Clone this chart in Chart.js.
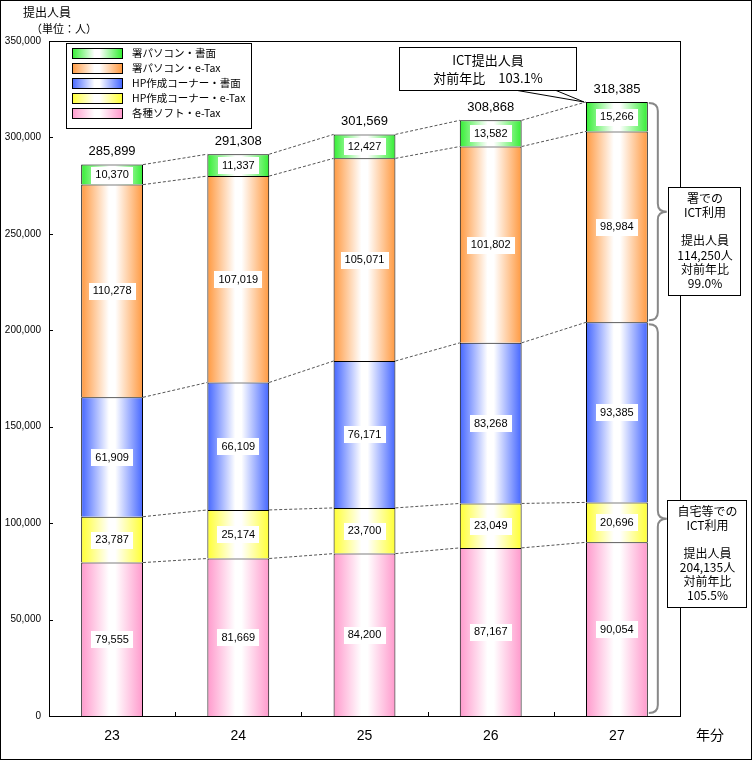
<!DOCTYPE html>
<html>
<head>
<meta charset="utf-8">
<script src="https://cdn.jsdelivr.net/npm/chart.js@4.4.1/dist/chart.umd.min.js"></script>
<style>
  html, body { margin: 0; padding: 0; background: #fff; }
  #box { width: 752px; height: 760px; }
</style>
</head>
<body>
<div id="box"><canvas id="chart" width="752" height="760"></canvas></div>
<script>
// 年分
const years = ["23", "24", "25", "26", "27"];
// 提出人員 (人) 下から順
const softEtax = [79555, 81669, 84200, 87167, 90054];     // 各種ソフト・e-Tax
const hpEtax   = [23787, 25174, 23700, 23049, 20696];     // HP作成コーナー・e-Tax
const hpPaper  = [61909, 66109, 76171, 83268, 93385];     // HP作成コーナー・書面
const pcEtax   = [110278, 107019, 105071, 101802, 98984]; // 署パソコン・e-Tax
const pcPaper  = [10370, 11337, 12427, 13582, 15266];     // 署パソコン・書面
const totals   = [285899, 291308, 301569, 308868, 318385];
const yTicks   = [0, 50000, 100000, 150000, 200000, 250000, 300000, 350000];

const FAM = '"Liberation Sans", "Noto Sans CJK JP", sans-serif';
const JP = '"Noto Sans CJK JP", sans-serif';
const BAR_PCT = 0.49;

const series = [
  { label: "各種ソフト・e-Tax",       data: softEtax, color: "#ff99cc" },
  { label: "HP作成コーナー・e-Tax",   data: hpEtax,   color: "#ffff33" },
  { label: "HP作成コーナー・書面",    data: hpPaper,  color: "#4466ff" },
  { label: "署パソコン・e-Tax",       data: pcEtax,   color: "#ff9940" },
  { label: "署パソコン・書面",        data: pcPaper,  color: "#33ee33" }
];

function makeGrad(ctx, x0, x1, color) {
  const g = ctx.createLinearGradient(x0, 0, x1, 0);
  g.addColorStop(0, color);
  g.addColorStop(0.45, "#ffffff");
  g.addColorStop(0.55, "#ffffff");
  g.addColorStop(1, color);
  return g;
}

function barFill(color) {
  return c => {
    const chart = c.chart, xs = chart.scales.x;
    if (c.type !== "data" || !xs || !chart.chartArea) return color;
    const cx = xs.getPixelForValue(c.dataIndex);
    const w = xs.width / years.length * BAR_PCT;
    return makeGrad(chart.ctx, cx - w / 2, cx + w / 2, color);
  };
}

const fmt = v => v.toLocaleString("en-US");

function line(ctx, x1, y1, x2, y2) {
  ctx.beginPath(); ctx.moveTo(x1, y1); ctx.lineTo(x2, y2); ctx.stroke();
}

function brace(ctx, x, y1, y2) {
  const m = (y1 + y2) / 2, r = 8, w = 9;
  ctx.beginPath();
  ctx.moveTo(x, y1);
  ctx.quadraticCurveTo(x + w, y1, x + w, y1 + r);
  ctx.lineTo(x + w, m - r);
  ctx.quadraticCurveTo(x + w, m, x + 2 * w, m);
  ctx.quadraticCurveTo(x + w, m, x + w, m + r);
  ctx.lineTo(x + w, y2 - r);
  ctx.quadraticCurveTo(x + w, y2, x, y2);
  ctx.stroke();
}

function textBox(ctx, x, y, w, h, lines, startY, step) {
  ctx.fillStyle = "#fff";
  ctx.fillRect(x, y, w, h);
  ctx.strokeStyle = "#000";
  ctx.lineWidth = 1;
  ctx.strokeRect(x + 0.5, y + 0.5, w, h);
  ctx.fillStyle = "#000";
  ctx.font = "12px " + JP;
  ctx.textAlign = "center";
  ctx.textBaseline = "middle";
  let ty = startY;
  lines.forEach(s => { if (s) ctx.fillText(s, x + w / 2 + 1, ty); ty += step; });
}

const deco = {
  id: "deco",
  beforeDatasetsDraw(chart) {
    // 棒の間の破線
    const ctx = chart.ctx;
    const metas = series.map((s, i) => chart.getDatasetMeta(i));
    ctx.save();
    ctx.strokeStyle = "#555";
    ctx.lineWidth = 1;
    ctx.setLineDash([3, 2]);
    for (let k = 0; k < series.length; k++) {
      for (let i = 0; i < years.length - 1; i++) {
        const a = metas[k].data[i], b = metas[k].data[i + 1];
        line(ctx, a.x + a.width / 2, a.y, b.x - b.width / 2, b.y);
      }
    }
    ctx.restore();
  },
  afterDraw(chart) {
    const ctx = chart.ctx, a = chart.chartArea, ys = chart.scales.y;
    ctx.save();
    ctx.strokeStyle = "#000";
    ctx.lineWidth = 1;
    ctx.strokeRect(0.5, 0.5, 751, 759);
    ctx.strokeRect(a.left + 0.5, a.top + 0.5, a.right - a.left, a.bottom - a.top);

    // 目盛り (内向き)
    yTicks.forEach(v => {
      const y = Math.round(ys.getPixelForValue(v)) + 0.5;
      line(ctx, a.left, y, a.left + 4, y);
    });
    const cw = (a.right - a.left) / years.length;
    for (let i = 1; i < years.length; i++) {
      const x = Math.round(a.left + i * cw) + 0.5;
      line(ctx, x, a.bottom, x, a.bottom - 4);
    }

    // 値ラベル
    ctx.font = "11px " + FAM;
    ctx.textAlign = "center";
    ctx.textBaseline = "middle";
    series.forEach((s, d) => {
      chart.getDatasetMeta(d).data.forEach((el, i) => {
        const t = fmt(s.data[i]);
        const cy = (el.y + el.base) / 2;
        const tw = ctx.measureText(t).width + 8;
        ctx.fillStyle = "#fff";
        ctx.fillRect(Math.round(el.x - tw / 2), Math.round(cy - 8), Math.round(tw), 17);
        ctx.fillStyle = "#000";
        ctx.fillText(t, el.x, cy + 0.5);
      });
    });

    // 合計
    ctx.font = "13px " + FAM;
    const top = chart.getDatasetMeta(series.length - 1).data;
    top.forEach((el, i) => ctx.fillText(fmt(totals[i]), el.x, el.y - 13));

    // 表題
    ctx.textAlign = "left";
    ctx.font = "12px " + JP;
    ctx.fillText("提出人員", 23, 12);
    ctx.font = "11px " + JP;
    ctx.fillText("（単位：人）", 31, 29);

    // 凡例
    ctx.fillStyle = "#fff";
    ctx.fillRect(66, 43, 185, 85);
    ctx.strokeRect(66.5, 43.5, 185, 85);
    ctx.font = "10.5px " + JP;
    series.slice().reverse().forEach((s, j) => {
      const y = 48 + j * 15;
      ctx.fillStyle = makeGrad(ctx, 72, 122, s.color);
      ctx.fillRect(72, y, 50, 10);
      ctx.strokeStyle = "#000";
      ctx.strokeRect(72.5, y + 0.5, 50, 10);
      ctx.fillStyle = "#000";
      ctx.fillText(s.label, 132, y + 5);
    });

    // 27年の注記
    const last = years.length - 1;
    const el = top[last];
    const topY = el.y;
    const pcLast = pcEtax[last] + pcPaper[last];
    const pcPrev = pcEtax[last - 1] + pcPaper[last - 1];
    const homeLast = softEtax[last] + hpEtax[last] + hpPaper[last];
    const homePrev = softEtax[last - 1] + hpEtax[last - 1] + hpPaper[last - 1];
    const midY = ys.getPixelForValue(homeLast);
    const bx = el.x + el.width / 2 + 1;

    ctx.strokeStyle = "#888";
    ctx.lineWidth = 2;
    brace(ctx, bx, topY + 1, midY - 2);
    brace(ctx, bx, midY + 2, a.bottom - 3);

    textBox(ctx, 668, 187, 72, 108,
      ["署での", "ICT利用", "", "提出人員", fmt(pcLast) + "人", "対前年比",
       (pcLast / pcPrev * 100).toFixed(1) + "%"], 198, 14.3);
    textBox(ctx, 667, 500, 79, 107,
      ["自宅等での", "ICT利用", "", "提出人員", fmt(homeLast) + "人", "対前年比",
       (homeLast / homePrev * 100).toFixed(1) + "%"], 511, 14);

    // 吹き出し
    const tipX = el.x - el.width / 2 - 2;
    ctx.lineWidth = 1;
    ctx.strokeStyle = "#000";
    ctx.fillStyle = "#fff";
    ctx.beginPath();
    ctx.moveTo(503, 88);
    ctx.lineTo(tipX, topY);
    ctx.lineTo(550, 88);
    ctx.closePath();
    ctx.fill();
    ctx.stroke();
    ctx.fillRect(399, 47, 177, 43);
    ctx.strokeRect(399.5, 47.5, 177, 43);
    ctx.fillStyle = "#000";
    ctx.textAlign = "center";
    ctx.font = "13px " + JP;
    ctx.fillText("ICT提出人員", 488, 60);
    ctx.fillText("対前年比　" + (totals[last] / totals[last - 1] * 100).toFixed(1) + "%", 488, 78);

    // 年分
    ctx.font = "14px " + JP;
    ctx.fillText("年分", 710, 735);
    ctx.restore();
  }
};

new Chart(document.getElementById("chart"), {
  type: "bar",
  data: {
    labels: years,
    datasets: series.map(s => ({
      label: s.label,
      data: s.data,
      backgroundColor: barFill(s.color),
      borderColor: "#000",
      borderWidth: 1,
      categoryPercentage: 1,
      barPercentage: BAR_PCT
    }))
  },
  options: {
    responsive: false,
    devicePixelRatio: 1,
    animation: false,
    layout: { padding: { top: 41, right: 72, left: 0, bottom: 0 } },
    scales: {
      x: {
        stacked: true,
        grid: { display: false, drawTicks: false },
        border: { display: false },
        ticks: { color: "#000", font: { size: 14, family: FAM }, padding: 12 },
        afterFit: s => { s.height = 44; }
      },
      y: {
        stacked: true,
        min: 0,
        max: 350000,
        grid: { display: false, drawTicks: false },
        border: { display: false },
        ticks: {
          stepSize: 50000,
          color: "#000",
          padding: 8,
          font: { size: 10, family: FAM },
          callback: v => fmt(v)
        },
        afterFit: s => { s.width = 49; }
      }
    },
    plugins: {
      legend: { display: false },
      tooltip: { enabled: false }
    }
  },
  plugins: [deco]
});
</script>
</body>
</html>
